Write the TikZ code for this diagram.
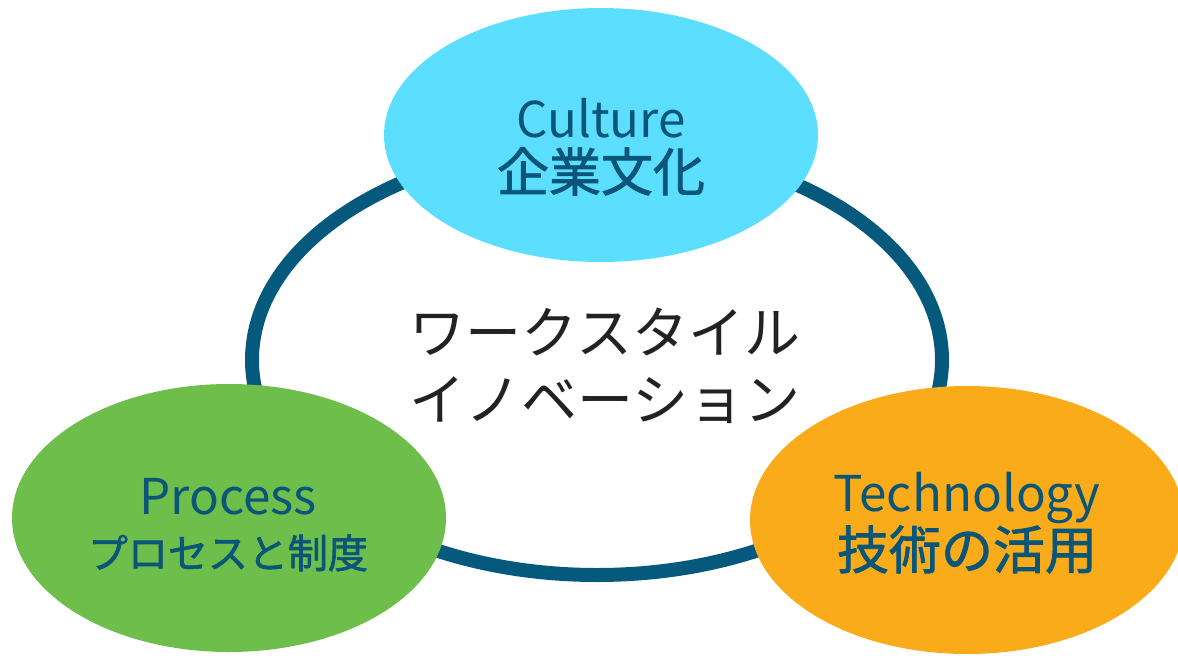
\documentclass[tikz,border=0pt]{standalone}
\usepackage{fontspec}
\setmainfont{Noto Sans CJK JP}
\newfontfamily\jpsemi{Noto Sans CJK JP}[FakeBold=1.6]
\usetikzlibrary{positioning, shapes.geometric}
\definecolor{ringblue}{RGB}{5,89,125}
\definecolor{culturecyan}{RGB}{91,222,255}
\definecolor{processgreen}{RGB}{110,190,75}
\definecolor{techorange}{RGB}{250,171,26}
\definecolor{labelblue}{RGB}{10,85,120}
\definecolor{maintext}{RGB}{34,34,34}

\begin{document}
\begin{tikzpicture}[
    x=0.75pt, y=-0.75pt,
    blob/.style = {ellipse, inner sep=0pt, minimum width=325.5pt, minimum height=#1},
    blob/.default=201pt,
    pillar/.style = {align=center, text=labelblue, font=\fontsize{37}{40}\selectfont}
  ]
  \useasboundingbox (0,0) rectangle (1178,657);

  \node[ellipse, draw=ringblue, line width=10.5pt, minimum width=517.5pt, minimum height=322.5pt] (ring) at (597,360) {};
  \node[align=center, text=maintext, font=\fontsize{42}{50}\selectfont] (WSI) at (605,366) {ワークスタイル\\イノベーション};

  \node[blob=190.5pt, fill=culturecyan] (C) at (601,135) {};
  \node[pillar] (Clabel) at (601,147) {Culture\\{\jpsemi\fontsize{39}{40}\selectfont 企業文化}};

  \node[blob, fill=processgreen] (P) at (229,518) {};
  \node[pillar] (Plabel) at (228,525) {Process\\{\jpsemi\fontsize{30}{40}\selectfont プロセスと制度}};

  \node[blob, fill=techorange] (T) at (967,520) {};
  \node[pillar] (Tlabel) at (967,523) {Technology\\{\jpsemi\fontsize{39}{40}\selectfont 技術の活用}};

\end{tikzpicture}
\end{document}
